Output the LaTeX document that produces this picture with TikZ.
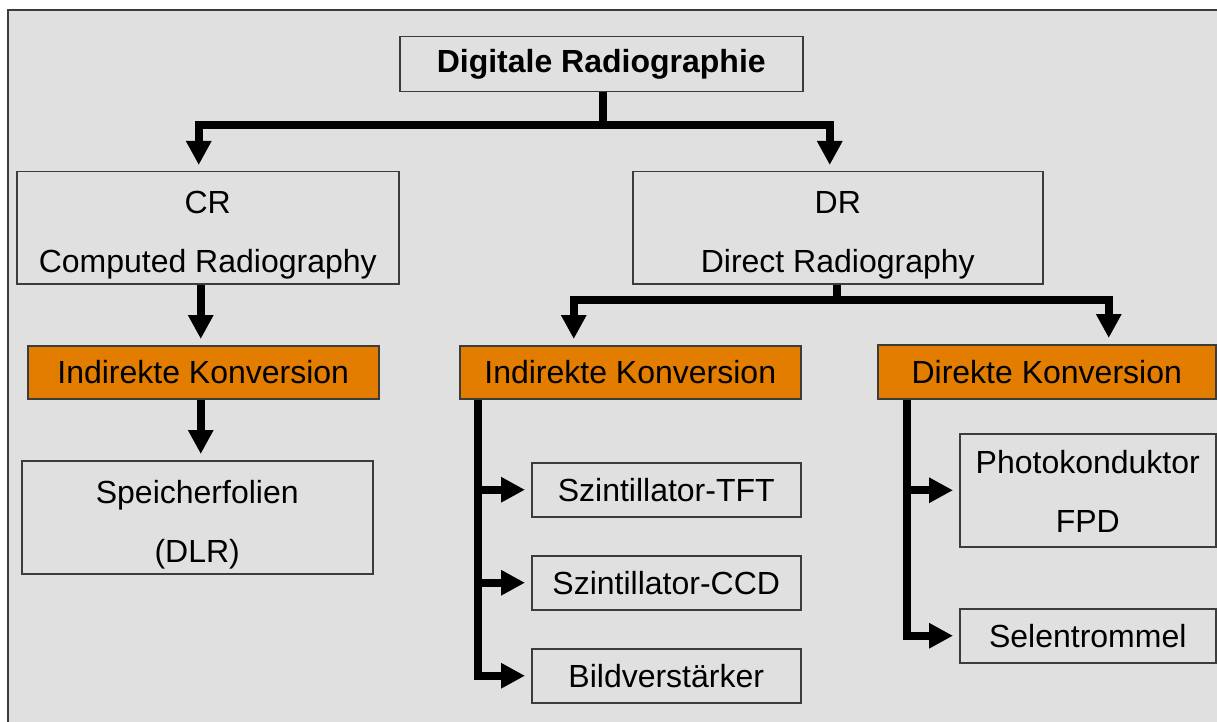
\documentclass[tikz,border=0pt]{standalone}
\usepackage{fontspec}
\setmainfont{Liberation Sans}
\usetikzlibrary{arrows.meta}
\definecolor{bg}{RGB}{224,224,224}
\definecolor{orng}{RGB}{226,125,0}
\definecolor{edge}{RGB}{60,60,60}
\newcommand{\topstrut}{\rule{0pt}{38pt}}
\begin{document}
\begin{tikzpicture}[x=1pt,y=-1pt,
  box/.style={draw=edge, line width=1.5pt, fill=bg, anchor=north west, inner sep=0pt,
    align=center, font=\fontsize{32}{59}\selectfont},
  obox/.style={box, fill=orng},
  conn/.style={line width=8pt, line join=miter, -{Triangle[width=24pt,length=24pt]}, shorten >=6pt}]
\useasboundingbox (0,0) rectangle (1217,722);
\fill[white] (0,0) rectangle (1217,722);
\fill[bg] (8,10) rectangle (1217,722);
\draw[edge, line width=2pt] (8,722) -- (8,10) -- (1217,10);

\node[box, minimum width=403pt, minimum height=55pt, font=\bfseries\fontsize{32}{38}\selectfont] (dig) at (399,36) {Digitale Radiographie};
\node[box, minimum width=382pt, minimum height=112pt] (cr) at (16,171) {\topstrut CR\\Computed Radiography};
\node[box, minimum width=410pt, minimum height=112pt] (drr) at (632,171) {\topstrut DR\\Direct Radiography};
\node[obox, minimum width=351pt, minimum height=53pt] (ik1) at (27,345) {Indirekte Konversion};
\node[obox, minimum width=341pt, minimum height=53pt] (ik2) at (459,345) {Indirekte Konversion};
\node[obox, minimum width=338pt, minimum height=54pt] (dk) at (877,344) {Direkte Konversion};
\node[box, minimum width=351pt, minimum height=113pt] (sp) at (21,460) {\topstrut Speicherfolien\\(DLR)};
\node[box, minimum width=269pt, minimum height=54pt] (tft) at (531,462) {Szintillator-TFT};
\node[box, minimum width=269pt, minimum height=54pt] (ccd) at (531,555) {Szintillator-CCD};
\node[box, minimum width=269pt, minimum height=54pt] (bv) at (531,648) {Bildverstärker};
\node[box, minimum width=256pt, minimum height=113pt] (pk) at (959,433) {\rule{0pt}{26pt}Photokonduktor\\FPD};
\node[box, minimum width=256pt, minimum height=54pt] (se) at (959,608) {Selentrommel};

\draw[conn] ([xshift=1.5pt]dig.south) -- ++(0,33) -| ([xshift=-9pt]cr.north);
\draw[conn] ([xshift=1.5pt]dig.south) -- ++(0,33) -| ([xshift=-8pt]drr.north);
\draw[conn] ([xshift=-7pt]cr.south) -- ([xshift=-2.5pt]ik1.north);
\draw[conn] ([xshift=-2.5pt]ik1.south) -- ([xshift=3.5pt]sp.north);
\draw[conn] ([xshift=-1pt]drr.south) -- ++(0,15) -| ([xshift=-56.5pt]ik2.north);
\draw[conn] ([xshift=-1pt]drr.south) -- ++(0,15) -| ([xshift=62pt]dk.north);
\draw[conn] ([xshift=19pt]ik2.south west) |- (tft.west);
\draw[conn] ([xshift=19pt]ik2.south west) |- (ccd.west);
\draw[conn] ([xshift=19pt]ik2.south west) |- (bv.west);
\draw[conn] ([xshift=30pt]dk.south west) |- (pk.west);
\draw[conn] ([xshift=30pt]dk.south west) |- (se.west);
\end{tikzpicture}
\end{document}
